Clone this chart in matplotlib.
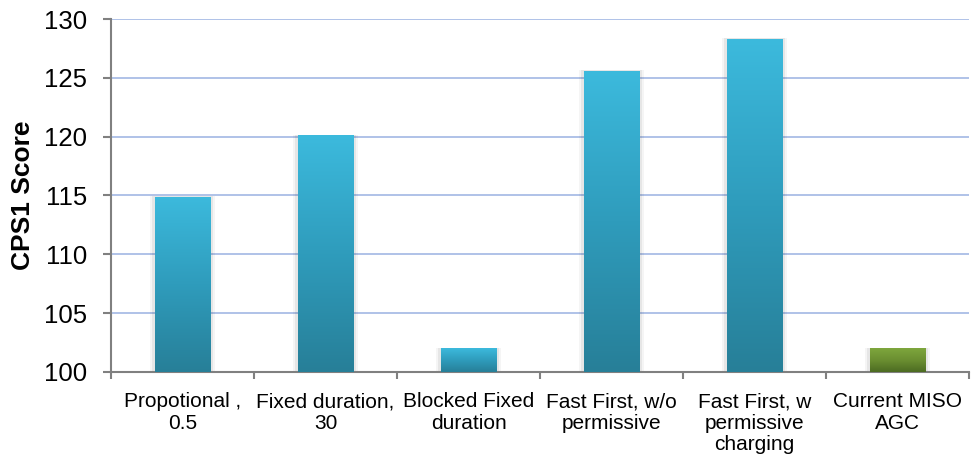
import numpy as np
import matplotlib
matplotlib.use("Agg")
import matplotlib.pyplot as plt
from matplotlib.colors import LinearSegmentedColormap

categories = ["Propotional ,\n0.5", "Fixed duration,\n30", "Blocked Fixed\nduration",
              "Fast First, w/o\npermissive", "Fast First, w\npermissive\ncharging",
              "Current MISO\nAGC"]
values = [114.9, 120.1, 102.0, 125.6, 128.3, 102.0]
bar_styles = ["blue", "blue", "blue", "blue", "blue", "green"]
yticks = [100, 105, 110, 115, 120, 125, 130]

plt.rcParams['font.family'] = ['Liberation Sans', 'DejaVu Sans']

fig = plt.figure(figsize=(9.71, 4.58), dpi=100)
ax = fig.add_axes([0.1143, 0.1878, 0.8837, 0.7707])

cmaps = {
    "blue": LinearSegmentedColormap.from_list("b", ["#277f98", "#2f9cbc", "#3cbadd"]),
    "green": LinearSegmentedColormap.from_list("g", ["#4c6b22", "#6b8f31", "#7ea63d"]),
}

x = np.arange(len(categories))
bars = ax.bar(x, np.array(values) - 100, bottom=100, width=0.39, color="none",
              edgecolor="none", zorder=3)
grad = np.linspace(0, 1, 256).reshape(-1, 1)
for b, st in zip(bars, bar_styles):
    x0 = b.get_x(); w = b.get_width(); y0 = b.get_y(); h = b.get_height()
    for k, a in [(0.03, 0.04), (0.018, 0.06)]:
        ax.add_patch(plt.Rectangle((x0 - k, y0), w + 2 * k, h + 0.08, color="#000000",
                                   alpha=a, lw=0, zorder=2))
    im = ax.imshow(grad, cmap=cmaps[st], origin="lower", aspect="auto",
                   extent=[x0, x0 + w, y0, y0 + h], zorder=3)
    im.set_clip_path(b)

ax.set_xlim(-0.5, len(categories) - 0.5)
ax.set_ylim(100, 130)
ax.set_yticks(yticks)
ax.set_yticklabels([str(t) for t in yticks], fontsize=18.5)
ax.yaxis.grid(True, color="#a9bde6", lw=1.3, zorder=0)
ax.set_axisbelow(True)

ax.set_xticks(np.arange(-0.5, len(categories), 1.0))
ax.set_xticklabels([])
ax.set_xticks(x, minor=True)
ax.set_xticklabels(categories, minor=True, fontsize=15, linespacing=1.17, va="top")
ax.tick_params(axis="x", which="minor", length=0, pad=14.5)
ax.tick_params(axis="x", which="major", length=5, color="#808080", width=1.5)
ax.tick_params(axis="y", length=6, color="#808080", width=1.5, pad=11)

for s in ["top", "right"]:
    ax.spines[s].set_visible(False)
for s in ["left", "bottom"]:
    ax.spines[s].set_color("#808080")
    ax.spines[s].set_linewidth(1.5)

ax.set_ylabel("CPS1 Score", fontsize=19, fontweight="bold", labelpad=7)

fig.savefig("out.png", dpi=100)
